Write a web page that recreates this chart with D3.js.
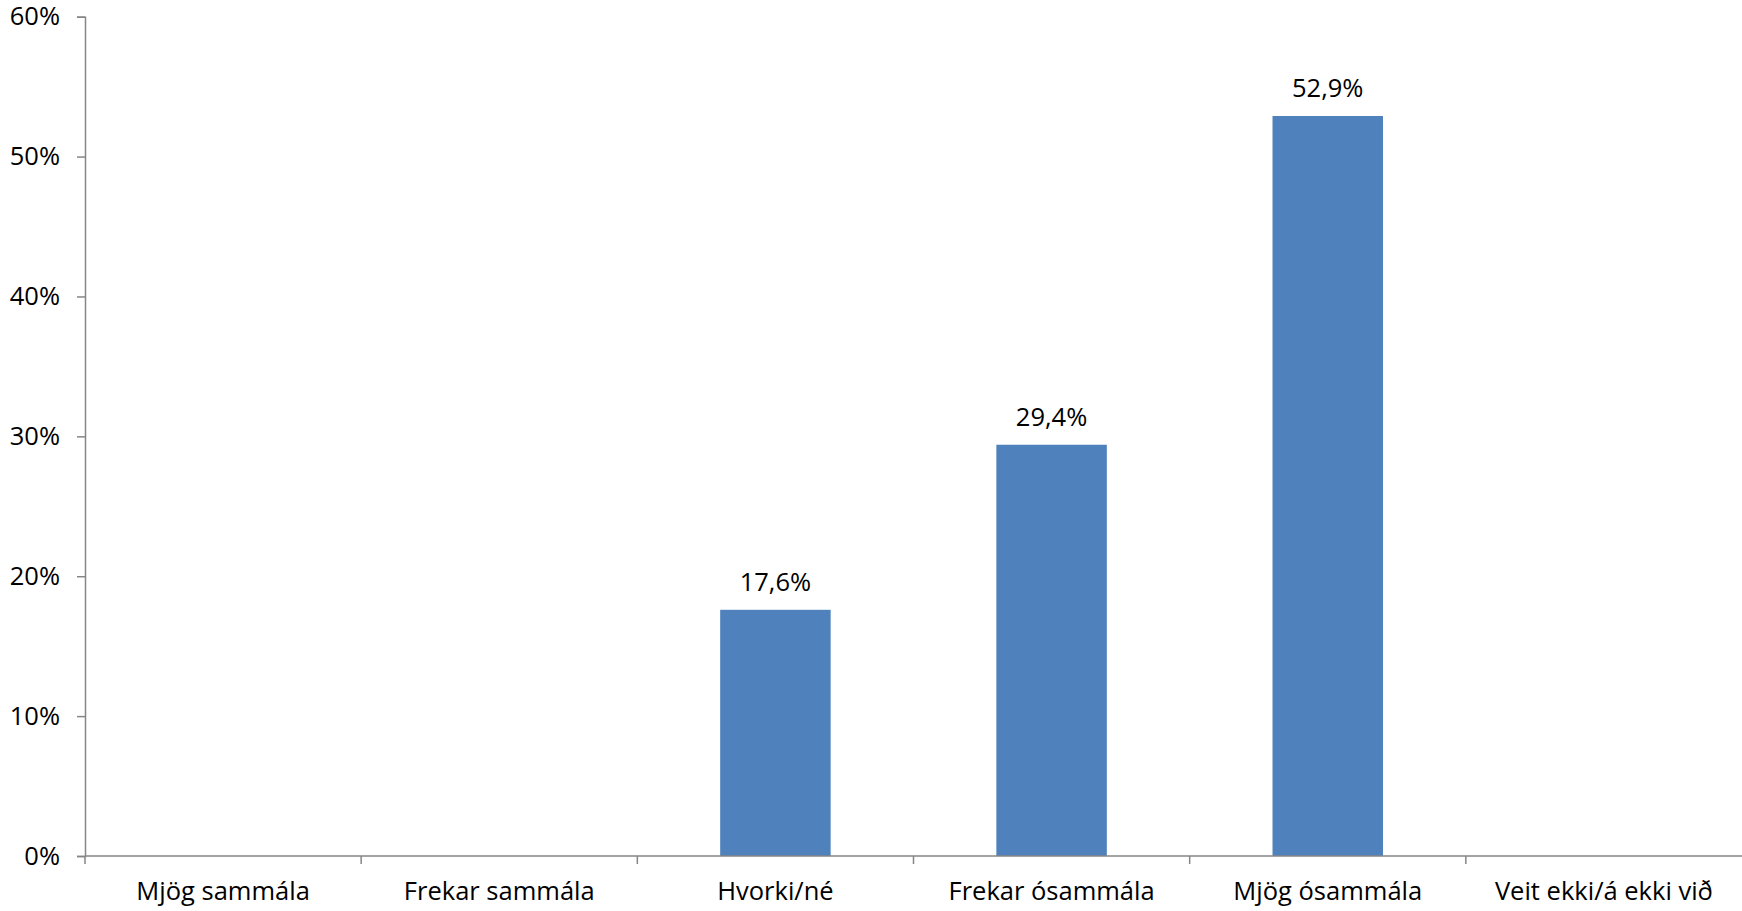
<!DOCTYPE html>
<html><head><meta charset="utf-8">
<script src="https://cdn.jsdelivr.net/npm/d3@7"></script>
<style>body{margin:0;background:#fff}svg{display:block}text{font-family:"Open Sans",sans-serif;fill:#000}</style>
</head><body><svg id="c" width="1742" height="911"></svg>
<script>
const categories = ["Mjög sammála","Frekar sammála","Hvorki/né","Frekar ósammála","Mjög ósammála","Veit ekki/á ekki við"];
const values = [null, null, 17.6, 29.4, 52.9, null];
const valueLabels = [null, null, "17,6%", "29,4%", "52,9%", null];
const yTicks = [0,10,20,30,40,50,60];
const yTickLabels = ["0%","10%","20%","30%","40%","50%","60%"];

const FONT = "'Open Sans', sans-serif";
const FS = 25.5;
const svg = d3.select("#c");
const m = {left:85, right:0, top:16.7, bottom:55};
const W = 1742, H = 911;
const x = d3.scaleBand().domain(categories).range([m.left, W - m.right]).padding(0);
const y = d3.scaleLinear().domain([0,60]).range([H - m.bottom, m.top]);
const axisColor = "#868686";
const barW = x.bandwidth()*0.4;

const data = categories.map((c,i)=>({c, v:values[i], l:valueLabels[i]})).filter(d=>d.v!=null);
svg.selectAll("rect.bar").data(data).enter().append("rect")
  .attr("x", d=>x(d.c)+x.bandwidth()/2-barW/2)
  .attr("width", barW)
  .attr("y", d=>y(d.v))
  .attr("height", d=>y(0)-y(d.v))
  .attr("fill","#4F81BD");
svg.selectAll("text.vl").data(data).enter().append("text")
  .attr("x", d=>x(d.c)+x.bandwidth()/2)
  .attr("y", d=>y(d.v)-19)
  .attr("text-anchor","middle").attr("font-size",FS)
  .text(d=>d.l);

const ya = d3.axisLeft(y).tickValues(yTicks).tickSize(8).tickPadding(17).tickFormat((d,i)=>yTickLabels[i]);
const gy = svg.append("g").attr("transform",`translate(${m.left},0)`).call(ya);
gy.select(".domain").attr("stroke",axisColor).attr("stroke-width",1.5);
gy.selectAll(".tick line").attr("stroke",axisColor).attr("stroke-width",1.5);
gy.selectAll(".tick text").attr("font-size",FS).attr("font-family",FONT).attr("fill","#000");

const gx = svg.append("g").attr("transform",`translate(0,${y(0)})`);
gx.append("line").attr("x1",m.left).attr("x2",W).attr("stroke",axisColor).attr("stroke-width",1.5);
const bounds = categories.map(c=>x(c));
gx.selectAll("line.t").data(bounds).enter().append("line")
  .attr("x1",d=>d).attr("x2",d=>d).attr("y1",0).attr("y2",8)
  .attr("stroke",axisColor).attr("stroke-width",1.5);
gx.selectAll("text.xl").data(categories).enter().append("text")
  .attr("x",d=>x(d)+x.bandwidth()/2).attr("y",44)
  .attr("text-anchor","middle").attr("font-size",FS).text(d=>d);
</script></body></html>
